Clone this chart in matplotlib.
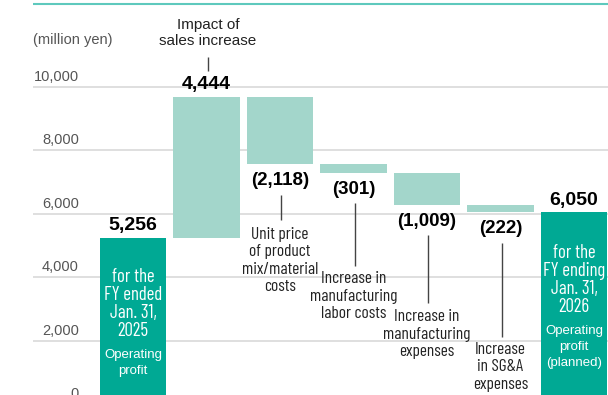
import matplotlib
matplotlib.use("Agg")
import matplotlib.pyplot as plt
import numpy as np

# ---- data ----
steps = ["FY2025 operating profit", "Impact of sales increase", "Unit price of product mix/material costs",
         "Increase in manufacturing labor costs", "Increase in manufacturing expenses",
         "Increase in SG&A expenses", "FY2026 operating profit (planned)"]
start_value = 5256
deltas = [4444, -2118, -301, -1009, -222]
end_value = 6050
value_labels = ["5,256", "4,444", "(2,118)", "(301)", "(1,009)", "(222)", "6,050"]
yticks = [0, 2000, 4000, 6000, 8000, 10000]
ytick_labels = ["0", "2,000", "4,000", "6,000", "8,000", "10,000"]
unit_label = "(million yen)"

DARK = "#00a994"
LIGHT = "#a3d6cb"
NARROW = ["Barlow Condensed", "Roboto Condensed", "Archivo Narrow", "Liberation Sans", "DejaVu Sans"]
SANS = ["Liberation Sans", "DejaVu Sans"]

fig = plt.figure(figsize=(6.08, 3.95), dpi=100)
ax = fig.add_axes([0, 0, 1, 1])
ax.set_xlim(-1.8095, 6.4626)
ax.set_ylim(299, 12740)
ax.axis("off")

xl, xr = -1.3605, 6.4626
# gridlines and tick labels
for v, lab in zip(yticks, ytick_labels):
    ax.hlines(v, xl, xr, color="#dcdcdc", lw=1.3, zorder=0)
    ax.annotate(lab, (-0.7347, v), xytext=(0, 10), textcoords="offset pixels",
                ha="right", va="center", fontsize=10.5, color="#555555", family=SANS,
                annotation_clip=False)
# top teal rule
ax.hlines(12610, xl, xr, color="#5ec9bd", lw=1.5, zorder=0)
ax.text(xl, 11480, unit_label, ha="left", va="center", fontsize=10.5, color="#555555", family=SANS)

# bars
x = np.arange(len(steps))
width = 0.9
bottoms = [0]
heights = [start_value]
level = start_value
for d in deltas:
    lo = min(level, level + d)
    bottoms.append(lo)
    heights.append(abs(d))
    level += d
bottoms.append(0)
heights.append(end_value)
colors = [DARK] + [LIGHT] * len(deltas) + [DARK]
ax.bar(x, heights, bottom=bottoms, width=width, color=colors, zorder=2)

# value labels
tops = [b + h for b, h in zip(bottoms, heights)]
for i, lab in enumerate(value_labels):
    if i == 0 or i == 1 or i == len(steps) - 1:
        ax.annotate(lab, (x[i], tops[i]), xytext=(0, 12), textcoords="offset pixels",
                    ha="center", va="center", fontsize=14, fontweight="bold", family=SANS)
    else:
        ax.annotate(lab, (x[i], bottoms[i]), xytext=(0, -16.5), textcoords="offset pixels",
                    ha="center", va="center", fontsize=13.5, fontweight="bold", family=SANS)

# label for the sales increase (above)
ax.text(x[1] + 0.02, 11700, "Impact of\nsales increase", ha="center", va="center",
        fontsize=11, family=SANS, linespacing=1.2, color="#222222")
ax.vlines(x[1] + 0.02, 10504, 10945, color="#444444", lw=1)

# labels below bars with leader lines
below = [
    (2, "Unit price\nof product\nmix/material\ncosts", 4535, (5811, 6598)),
    (3, "Increase in\nmanufacturing\nlabor costs", 3417, (4362, 6346)),
    (4, "Increase in\nmanufacturing\nexpenses", 2220, (3197, 5339)),
    (5, "Increase\nin SG&A\nexpenses", 1181, (2126, 5087)),
]
for i, txt, yc, (y0, y1) in below:
    ax.vlines(x[i] + 0.02, y0, y1, color="#444444", lw=1, zorder=3)
    ax.text(x[i], yc, txt, ha="center", va="center", fontsize=12.5, family=NARROW,
            linespacing=1.2, color="#222222")

# text inside total bars
ax.text(x[0], 3150, "for the\nFY ended\nJan. 31,\n2025", ha="center", va="center",
        fontsize=13.5, family=NARROW, color="white", linespacing=1.0, zorder=3)
ax.text(x[0], 1307, "Operating\nprofit", ha="center", va="center",
        fontsize=9.5, family=SANS, color="white", linespacing=1.4, zorder=3)
ax.text(x[6], 3906, "for the\nFY ending\nJan. 31,\n2026", ha="center", va="center",
        fontsize=13.5, family=NARROW, color="white", linespacing=1.0, zorder=3)
ax.text(x[6], 1811, "Operating\nprofit\n(planned)", ha="center", va="center",
        fontsize=9.5, family=SANS, color="white", linespacing=1.4, zorder=3)

fig.savefig("out.png", dpi=100)
